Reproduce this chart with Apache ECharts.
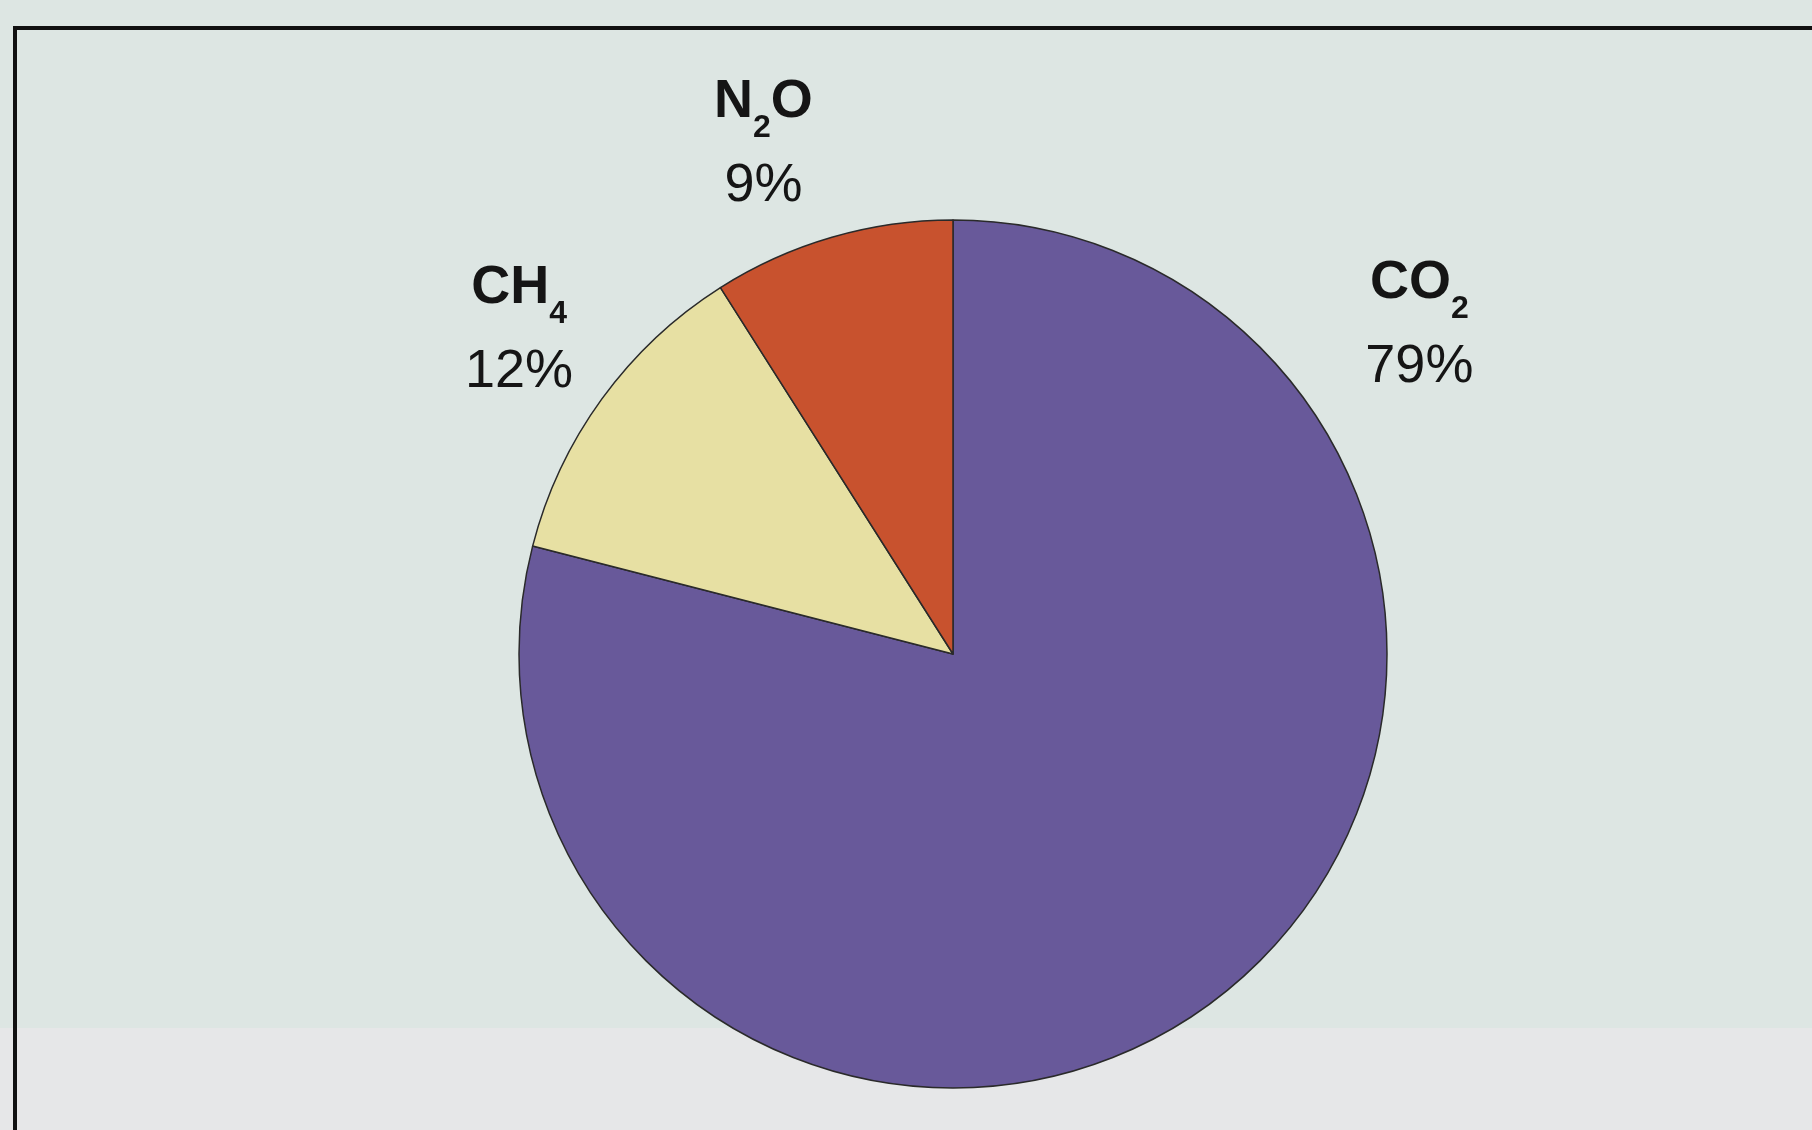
<!DOCTYPE html>
<html>
<head>
<meta charset="utf-8">
<script src="https://cdn.jsdelivr.net/npm/echarts@6/dist/echarts.min.js"></script>
<style>
html,body{margin:0;padding:0;background:#dde6e3;}
#chart{width:1812px;height:1130px;}
</style>
</head>
<body>
<div id="chart"></div>
<script>
// gases and shares (%)
var gases = ['CO2', 'CH4', 'N2O'];
var gasName = ['CO', 'CH', 'N'];      // main part of the formula
var gasSub = ['2', '4', '2'];         // subscript
var gasTail = ['', '', 'O'];          // rest after subscript
var shares = [79, 12, 9];
var colors = ['#68599a', '#e7e0a3', '#c8522e'];

// label placement: angle clockwise from top, distance as multiple of radius
var labelAngle = [54.8, 306.7, 339.6];
var labelDist = [1.315, 1.247, 1.253];

var cx = 953, cy = 654, R = 434;

var chart = echarts.init(document.getElementById('chart'));

var data = gases.map(function(g, i) {
	return {
		name: g,
		value: shares[i],
		itemStyle: {color: colors[i]},
		label: {
			formatter: '{b|' + gasName[i] + '}{s|' + gasSub[i] + '}{b|' + gasTail[i] + '}\n{p|' + shares[i] + '%}'
		}
	};
});

chart.setOption({
	backgroundColor: '#dde6e3',
	animation: false,
	graphic: [
		// lighter band of the scanned page at the bottom
		{type: 'rect', silent: true, z: -10, shape: {x: 0, y: 1028, width: 1812, height: 102}, style: {fill: '#e6e7e8'}},
		// frame
		{type: 'line', z: 5, shape: {x1: 14, y1: 28, x2: 1812, y2: 28}, style: {stroke: '#111', lineWidth: 4}},
		{type: 'line', z: 5, shape: {x1: 15, y1: 26, x2: 15, y2: 1130}, style: {stroke: '#111', lineWidth: 4}}
	],
	series: [{
		type: 'pie',
		center: [cx, cy],
		radius: R,
		startAngle: 90,
		clockwise: true,
		avoidLabelOverlap: false,
		itemStyle: {borderColor: '#2a2a2a', borderWidth: 1.5},
		label: {
			show: true,
			position: 'outside',
			color: '#151515',
			fontFamily: 'Liberation Sans',
			align: 'center',
			rich: {
				b: {fontSize: 54, fontWeight: 'bold', fontFamily: 'Liberation Sans', color: '#151515', lineHeight: 84},
				s: {fontSize: 32, fontWeight: 'bold', fontFamily: 'Liberation Sans', color: '#151515', verticalAlign: 'bottom', lineHeight: 52},
				p: {fontSize: 54, fontFamily: 'Liberation Sans', color: '#151515', lineHeight: 84, align: 'center'}
			}
		},
		labelLine: {show: false},
		labelLayout: function(params) {
			var i = params.dataIndex;
			var a = labelAngle[i] * Math.PI / 180;
			return {
				x: cx + Math.sin(a) * R * labelDist[i],
				y: cy - Math.cos(a) * R * labelDist[i],
				align: 'center',
				verticalAlign: 'middle'
			};
		},
		emphasis: {disabled: true},
		data: data
	}]
});
</script>
</body>
</html>
